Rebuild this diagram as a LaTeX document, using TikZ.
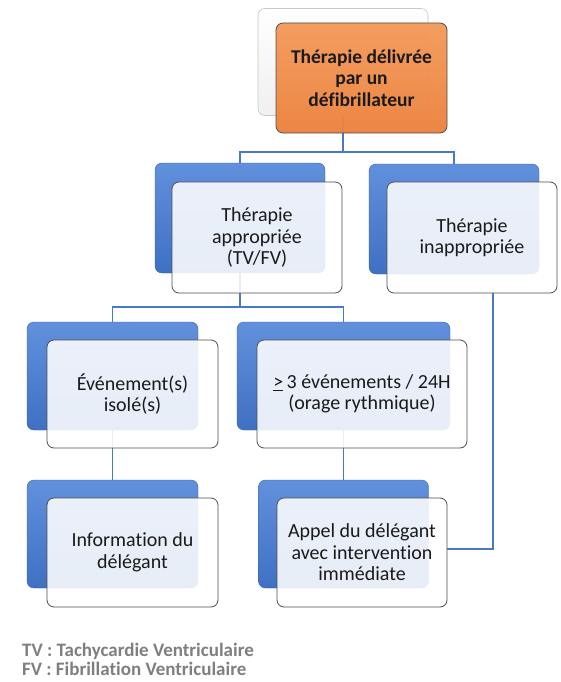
\documentclass[tikz,border=0pt]{standalone}
\usepackage{fontspec}
\setmainfont{Carlito}[Ligatures=NoCommon]
\definecolor{bluetop}{HTML}{6190DC}
\definecolor{bluebot}{HTML}{4070C2}
\definecolor{conncol}{HTML}{4A78C8}
\definecolor{framegray}{HTML}{4F4F4F}
\definecolor{orangetop}{HTML}{F39A5A}
\definecolor{orangebot}{HTML}{EC823E}
\definecolor{legendgray}{HTML}{7F7F7F}
\definecolor{textcol}{HTML}{1A1A1A}
\tikzset{
  backbox/.style={rectangle, rounded corners=7pt, top color=bluetop, bottom color=bluebot,
    draw=bluebot!85!black, line width=0.4pt, minimum width=170pt, minimum height=110pt, inner sep=0pt},
  graybox/.style={rectangle, rounded corners=7pt, top color=white, bottom color=black!6,
    draw=black!22, line width=0.6pt, minimum width=170pt, minimum height=107pt, inner sep=0pt},
  frontbox/.style={rectangle, rounded corners=7pt, draw=framegray, line width=0.8pt,
    fill=white, fill opacity=0.88, text opacity=1, text=textcol, align=center,
    font=\fontsize{20}{21.5}\selectfont, minimum width=170pt, minimum height=110pt, inner sep=2pt},
  orangebox/.style={frontbox, fill=none, top color=orangetop, bottom color=orangebot,
    fill opacity=0.96, font=\fontsize{19.5}{21.5}\selectfont\bfseries},
  conn/.style={draw=conncol, line width=1.2pt},
}
\begin{document}
\begin{tikzpicture}[x=1pt,y=-1pt]
\useasboundingbox (0,0) rectangle (561,682);
\fill[white] (0,0) rectangle (561,682);

% back boxes
\node[graybox] (topb) at (343,62) {};
\node[backbox] (l2lb) at (240,218) {};
\node[backbox] (l2rb) at (454,219) {};
\node[backbox, minimum height=108pt, minimum width=171pt] (l3lb) at (112.5,376) {};
\node[backbox, minimum height=108pt, minimum width=213pt] (l3rb) at (343.5,376) {};
\node[backbox, minimum height=108pt, minimum width=171pt] (l4lb) at (112.5,534) {};
\node[backbox, minimum height=108pt] (l4rb) at (343.5,534) {};

% junctions
\coordinate (j1) at (343,152);
\coordinate (j2) at (240,307);
\coordinate (k1) at (493,292);
\coordinate (k2) at (493,549);

% connectors
\draw[conn] (topb.south) -- (j1) -| (l2lb.north);
\draw[conn] (j1) -| (l2rb.north);
\draw[conn] (l2lb.south) -- (j2) -| (l3lb.north);
\draw[conn] (j2) -| (l3rb.north);
\draw[conn] (l3lb.south) -- (l4lb.north);
\draw[conn] (l3rb.south) -- (l4rb.north);

% front boxes
\node[orangebox, minimum width=171pt] (topf) at (361.5,78) {Thérapie délivrée\\par un\\défibrillateur};
\node[frontbox, minimum height=111pt] (l2lf) at (257,237.5) {Thérapie\\appropriée\\(TV/FV)};
\node[frontbox, minimum height=111pt] (l2rf) at (472,237.5) {Thérapie\\inappropriée};
\node[frontbox, minimum height=108pt, minimum width=171pt] (l3lf) at (132.5,394) {Événement(s)\\isolé(s)};
\node[frontbox, minimum height=108pt, minimum width=210pt] (l3rf) at (362,394) {\underline{>}\,3 événements / 24H\\(orage rythmique)};
\node[frontbox, minimum height=109pt, minimum width=171pt] (l4lf) at (132.5,552.5) {Information du\\délégant};
\node[frontbox, minimum height=109pt] (l4rf) at (362,552.5) {Appel du délégant\\avec intervention\\immédiate};

% connector from inappropriate therapy
\draw[conn] (l2rf.south -| k1) -- (k2) -- (k2 -| l4rf.east);

% legend
\node[anchor=west, align=left, inner sep=0pt, text=legendgray,
  font=\fontsize{19}{19.5}\selectfont\bfseries] (legend) at (22,659.5)
  {TV : Tachycardie Ventriculaire\\FV : Fibrillation Ventriculaire};
\end{tikzpicture}
\end{document}
